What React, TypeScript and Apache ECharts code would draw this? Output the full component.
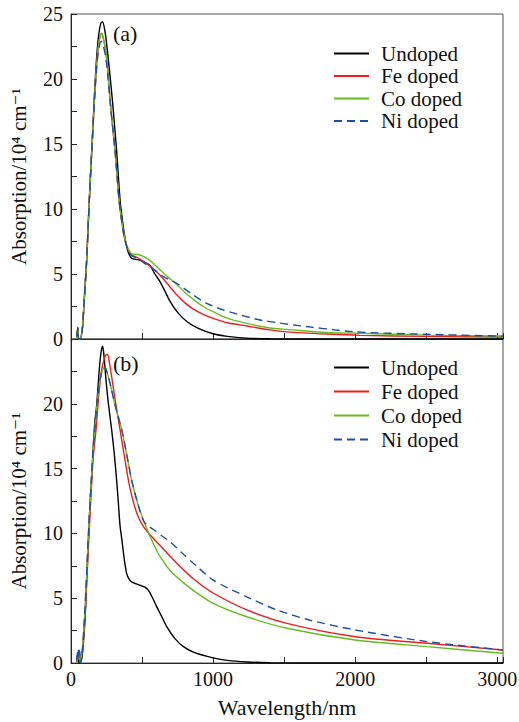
import React, { useEffect, useRef } from "react";
import * as echarts from "echarts";

const seriesNames = ["Undoped", "Fe doped", "Co doped", "Ni doped"];
const seriesColors = ["#000000", "#ee1c1c", "#66bb22", "#1d4fa5"];

const xTicks = [0, 1000, 2000, 3000];
const yTicksA = [0, 5, 10, 15, 20, 25];
const yTicksB = [0, 5, 10, 15, 20];
const xTitle = "Wavelength/nm";
const yTitle = "Absorption/10\u2074 cm\u207B\u00B9";
const panelTags = ["(a)", "(b)"];

// Panel (a)
const undopedA: number[][] = [
  [40, 0.1], [48, 0.9], [53, 0.05], [60, 0], [72, 0.2], [82, 1.0], [92, 2.8], [100, 4.2], [110, 6.0], [120, 8.5],
  [129, 10.7], [140, 13.2], [150, 15.3], [165, 18.8], [180, 21.6], [195, 23.4], [210, 24.3], [222, 24.4], [240, 23.6],
  [256, 22.2], [275, 20.2], [291, 18.4], [306, 16.5], [321, 14.5], [333, 12.6], [345, 10.7], [360, 9.3], [375, 8.1],
  [390, 7.2], [405, 6.6], [427, 6.2], [470, 6.1], [510, 5.95], [556, 5.65], [590, 5.0], [627, 4.4], [660, 3.7],
  [697, 2.9], [750, 2.05], [815, 1.35], [900, 0.8], [1000, 0.4], [1100, 0.2], [1235, 0.07], [1400, 0.02], [1600, 0],
  [3040, 0],
];
const feA: number[][] = [
  [40, 0], [48, 0.7], [53, 0], [60, 0], [72, 0.2], [82, 1.0], [92, 2.8], [100, 4.2], [110, 6.0], [120, 8.5],
  [129, 10.7], [140, 13.2], [150, 15.3], [165, 18.5], [180, 21.0], [195, 22.7], [208, 23.4], [216, 23.5], [228, 23.1],
  [244, 22.2], [260, 20.5], [275, 18.4], [292, 16.4], [310, 14.5], [324, 12.6], [338, 10.7], [355, 9.2], [372, 8.0],
  [390, 7.2], [410, 6.7], [427, 6.45], [470, 6.25], [533, 5.8], [580, 5.4], [627, 4.9], [690, 4.1], [744, 3.4],
  [800, 2.8], [861, 2.3], [930, 1.9], [1000, 1.59], [1100, 1.25], [1237, 1.0], [1400, 0.7], [1519, 0.55],
  [1800, 0.38], [2035, 0.28], [2500, 0.2], [3040, 0.15],
];
const coA: number[][] = [
  [40, 0], [48, 0.7], [53, 0], [60, 0], [72, 0.2], [82, 1.0], [92, 2.8], [100, 4.2], [110, 6.0], [120, 8.5],
  [129, 10.7], [140, 13.2], [150, 15.3], [165, 18.5], [180, 21.0], [195, 22.7], [208, 23.4], [216, 23.5], [228, 23.1],
  [244, 22.2], [260, 20.5], [275, 18.4], [292, 16.4], [310, 14.5], [324, 12.6], [338, 10.7], [355, 9.3], [372, 8.1],
  [390, 7.3], [410, 6.8], [427, 6.55], [470, 6.5], [509, 6.35], [560, 6.0], [627, 5.3], [690, 4.7], [744, 4.2],
  [800, 3.6], [861, 3.05], [930, 2.5], [1000, 2.1], [1100, 1.6], [1237, 1.2], [1400, 0.85], [1519, 0.74],
  [1800, 0.5], [2035, 0.44], [2500, 0.3], [3040, 0.23],
];
const niA: number[][] = [
  [40, 0.2], [48, 0.8], [53, 0], [62, 0], [72, 0.2], [82, 1.0], [92, 2.8], [100, 4.2], [110, 6.0], [120, 8.5],
  [129, 10.7], [140, 13.2], [150, 15.3], [165, 18.3], [180, 20.8], [195, 22.3], [212, 22.9], [228, 22.5],
  [244, 21.7], [260, 20.2], [275, 18.3], [292, 16.4], [310, 14.5], [324, 12.6], [338, 10.7], [355, 9.2], [372, 8.0],
  [390, 7.2], [410, 6.7], [427, 6.4], [470, 6.2], [533, 5.7], [600, 5.2], [650, 4.8], [744, 4.28], [861, 3.38],
  [955, 2.74], [1073, 2.23], [1190, 1.85], [1331, 1.46], [1448, 1.26], [1566, 1.08], [1988, 0.56], [2505, 0.36],
  [3040, 0.22],
];

// Panel (b)
const undopedB: number[][] = [
  [40, 0.1], [48, 0.8], [53, 0.05], [58, 0.6], [62, 0], [75, 0.3], [85, 1.2], [100, 3.6], [110, 6.4], [122, 9.4],
  [134, 12.3], [146, 14.4], [158, 17.0], [169, 18.75], [180, 19.8], [192, 21.6], [205, 23.4], [215, 24.2],
  [223, 24.45], [232, 23.7], [245, 22.0], [260, 20.3], [286, 18.0], [304, 16.2], [321, 14.1], [333, 12.4],
  [345, 10.6], [357, 9.6], [375, 8.0], [392, 6.9], [410, 6.45], [427, 6.25], [460, 6.1], [486, 6.0], [520, 5.85],
  [545, 5.6], [575, 5.0], [603, 4.35], [640, 3.55], [674, 2.8], [730, 1.9], [791, 1.26], [870, 0.8], [1000, 0.4],
  [1100, 0.2], [1237, 0.08], [1400, 0.02], [1600, 0], [3040, 0],
];
const feB: number[][] = [
  [40, 0], [50, 0.5], [58, 1.0], [63, 0.2], [70, 0.5], [80, 1.0], [95, 3.0], [110, 6.0], [125, 9.5], [140, 12.8],
  [155, 15.7], [176, 18.0], [195, 20.6], [215, 22.6], [235, 23.5], [250, 23.8], [258, 23.8], [270, 23.2],
  [290, 21.8], [315, 20.0], [345, 18.0], [375, 16.0], [404, 14.1], [430, 12.8], [462, 11.6], [500, 10.7],
  [556, 9.9], [650, 8.8], [744, 7.7], [861, 6.5], [1000, 5.4], [1237, 4.1], [1519, 3.06], [2000, 2.03],
  [2505, 1.52], [3040, 1.0],
];
const coB: number[][] = [
  [40, 0], [50, 0.4], [58, 0.8], [63, 0.1], [72, 0.4], [82, 1.2], [95, 3.5], [110, 6.8], [125, 10.5], [140, 13.5],
  [155, 16.3], [167, 18.0], [185, 20.2], [205, 21.9], [225, 22.7], [239, 22.8], [260, 22.2], [285, 21.1],
  [310, 19.9], [335, 18.9], [357, 18.0], [390, 16.2], [427, 14.1], [470, 12.3], [521, 10.7], [580, 9.2],
  [627, 8.2], [700, 7.1], [780, 6.3], [861, 5.6], [1000, 4.6], [1237, 3.57], [1519, 2.68], [2000, 1.77],
  [2505, 1.26], [3040, 0.75],
];
const niB: number[][] = [
  [40, 0.2], [50, 1.1], [56, 0.3], [62, 0.9], [66, 0], [74, 0.4], [82, 1.2], [95, 3.5], [110, 6.8], [125, 10.5],
  [140, 13.5], [157, 16.7], [170, 18.3], [185, 20.2], [205, 21.9], [225, 22.7], [239, 22.8], [260, 22.2],
  [285, 21.1], [310, 19.9], [335, 18.9], [357, 18.0], [390, 16.2], [427, 14.1], [470, 12.3], [509, 11.0],
  [540, 10.6], [580, 10.3], [640, 9.8], [697, 9.36], [780, 8.5], [861, 7.7], [1000, 6.4], [1237, 5.1],
  [1448, 4.1], [1683, 3.3], [2000, 2.55], [2505, 1.65], [3040, 1.0],
];

const panelA = [undopedA, feA, coA, niA];
const panelB = [undopedB, feB, coB, niB];

const FONT = "'Liberation Serif', 'DejaVu Serif', serif";

export default function App() {
  const ref = useRef<HTMLDivElement>(null);
  useEffect(() => {
    if (!ref.current) return;
    const chart = echarts.init(ref.current, undefined, { renderer: "svg" });
    const gridL = 71, gridW = 432;
    const gridDefs = [
      { left: gridL, top: 14, width: gridW, height: 325 },
      { left: gridL, top: 339, width: gridW, height: 324 },
    ];
    const grids = gridDefs.map((g) => ({
      ...g, show: true, borderColor: "#5a5252", borderWidth: 1, backgroundColor: "transparent",
    }));

    const axisLine = { show: true, lineStyle: { color: "#2e2626", width: 1 } };
    const tick = { show: true, inside: true, length: 6, lineStyle: { color: "#2e2626" } };
    const minor = { show: true, splitNumber: 2, length: 6, lineStyle: { color: "#2e2626" } };

    const xAxes = [0, 1].map((i) => ({
      type: "value", gridIndex: i, min: 0, max: 3040, interval: 1000,
      axisLine, axisTick: tick, minorTick: minor,
      splitLine: { show: false }, axisLabel: { show: false },
    }));
    const yAxes = [0, 1].map((i) => ({
      type: "value", gridIndex: i, min: 0, max: 25, interval: 5,
      axisLine, axisTick: tick, minorTick: minor,
      splitLine: { show: false }, axisLabel: { show: false },
    }));

    const series: any[] = [];
    [panelA, panelB].forEach((panel, p) => {
      panel.forEach((data, k) => {
        series.push({
          type: "line",
          name: seriesNames[k],
          xAxisIndex: p,
          yAxisIndex: p,
          data,
          symbol: "none",
          smooth: 0.25,
          z: 2 + k,
          lineStyle: { color: seriesColors[k], width: 1.4, type: k === 3 ? [8, 5] : "solid" },
          itemStyle: { color: seriesColors[k] },
        });
      });
    });

    const legendBase = {
      orient: "vertical",
      left: 333,
      padding: 0,
      itemWidth: 35,
      itemHeight: 14,
      data: seriesNames,
      itemStyle: { opacity: 0 },
      textStyle: { fontFamily: FONT, fontSize: 21, color: "#111", padding: [0, 0, 0, 7] },
      selectedMode: false,
    };

    chart.setOption({
      animation: false,
      backgroundColor: "#ffffff",
      textStyle: { fontFamily: FONT },
      grid: grids,
      xAxis: xAxes,
      yAxis: yAxes,
      legend: [
        { ...legendBase, top: 43, itemGap: 1.5 },
        { ...legendBase, top: 357, itemGap: 3 },
      ],
      series,
    });

    const txt = (text: string, x: number, y: number, align: string, vAlign: string, size: number, extra: any = {}) => ({
      type: "text",
      x,
      y,
      ...extra,
      style: { text, font: `${size}px ${FONT}`, fill: "#111", align, verticalAlign: vAlign },
    });

    const graphics: any[] = [];
    xTicks.forEach((v) => {
      const px = chart.convertToPixel({ xAxisIndex: 1 }, v) as number;
      graphics.push(txt(String(v), px, 669, "center", "top", 20));
    });
    [yTicksA, yTicksB].forEach((ticks, i) => {
      ticks.forEach((v) => {
        const py = chart.convertToPixel({ yAxisIndex: i }, v) as number;
        graphics.push(txt(String(v), 63, py, "right", "middle", 20));
      });
    });
    graphics.push(txt(xTitle, gridL + gridW / 2, 707, "center", "middle", 22));
    gridDefs.forEach((g, i) => {
      graphics.push(txt(yTitle, 19, g.top + g.height / 2, "center", "middle", 21, { rotation: Math.PI / 2 }));
      graphics.push(txt(panelTags[i], 113, i === 0 ? 33 : 363, "left", "middle", 22));
    });

    chart.setOption({ graphic: graphics });
    return () => chart.dispose();
  }, []);
  return (
    <div
      ref={ref}
      style={{ position: "fixed", left: 0, top: 0, width: 519, height: 722, background: "#fff" }}
    />
  );
}
